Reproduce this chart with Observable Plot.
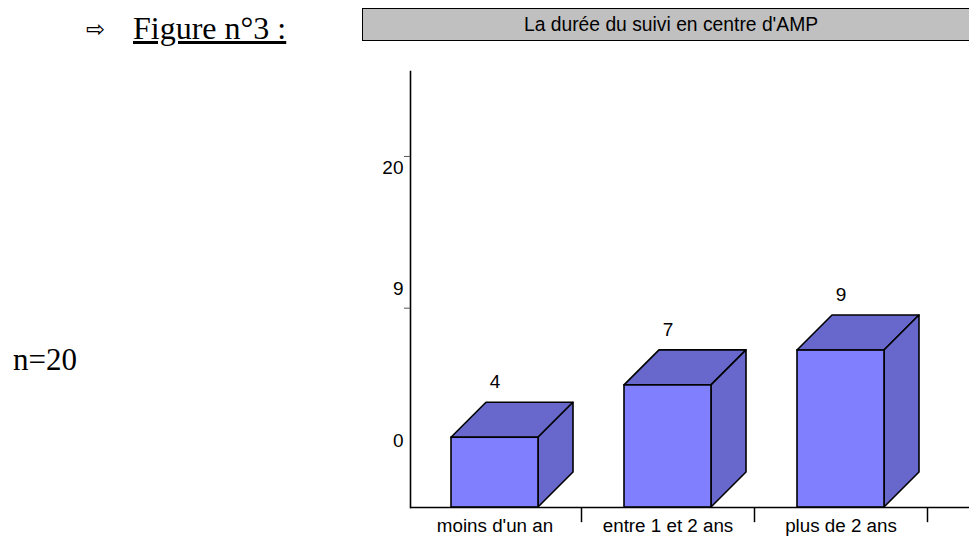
<!DOCTYPE html>
<html lang="fr">
<head>
<meta charset="utf-8">
<script src="https://cdn.jsdelivr.net/npm/d3@7"></script>
<script src="https://cdn.jsdelivr.net/npm/@observablehq/plot@0.6"></script>
<style>
html,body{margin:0;padding:0;background:#fff;width:969px;height:536px;overflow:hidden}
#chart{position:absolute;left:0;top:0}
.t{position:absolute;white-space:nowrap;color:#000}
#banner{left:362px;top:8px;width:607px;height:31px;box-sizing:content-box;background:#c0c0c0;border:1.5px solid #000;border-right:none;font:19.3px/31px "Liberation Sans",Arial,sans-serif;text-align:center;text-indent:9px}
#fig{left:133px;top:10px;font:32px "Liberation Serif","Times New Roman",serif;text-decoration:underline}
#arrow{left:86px;top:16px;font:23px "DejaVu Sans",sans-serif}
#n{left:13px;top:342px;font:31px "Liberation Serif","Times New Roman",serif}
</style>
</head>
<body>
<div class="t" id="arrow">⇨</div>
<div class="t" id="fig">Figure n°3 :</div>
<div class="t" id="banner">La durée du suivi en centre d'AMP</div>
<div class="t" id="n">n=20</div>
<div id="chart"></div>
<script>
const categories = ["moins d'un an", "entre 1 et 2 ans", "plus de 2 ans"];
const counts = [4, 7, 9];
const yTickPositions = [11.4, 20.1];
const yLabelPositions = [3.8, 12.55, 19.5];
const yLabels = ["0", "9", "20"];

const rows = categories.map((c, i) => ({c, v: counts[i]}));
const front = "#8080ff", shade = "#6868cc", depth = 35;

function faces(index, scales, values) {
  const g = d3.create("svg:g");
  const bw = scales.scales.x.bandwidth;
  for (const i of index) {
    const x0 = scales.x(rows[i].c), x1 = x0 + bw;
    const yt = scales.y(rows[i].v), yb = scales.y(0);
    const top = [[x0, yt], [x0 + depth, yt - depth], [x1 + depth, yt - depth], [x1, yt]];
    const side = [[x1, yt], [x1 + depth, yt - depth], [x1 + depth, yb - depth], [x1, yb]];
    for (const p of [top, side]) {
      g.append("path").attr("d", "M" + p.join("L") + "Z")
        .attr("fill", shade).attr("stroke", "#000")
        .attr("stroke-width", 1.6).attr("stroke-linejoin", "round");
    }
  }
  return g.node();
}

const plot = Plot.plot({
  width: 969, height: 536,
  marginLeft: 410, marginRight: 0, marginTop: 71, marginBottom: 29,
  style: {fontFamily: "'Liberation Sans', Arial, sans-serif", fontSize: "19px", color: "#000", background: "transparent"},
  x: {type: "band", domain: categories, range: [408, 927], paddingInner: 0.5, paddingOuter: 0.25, axis: null},
  y: {domain: [0, 25], axis: null},
  marks: [
    Plot.ruleY([0], {stroke: "#000", strokeWidth: 1.5}),
    Plot.frame({anchor: "left", stroke: "#000", strokeWidth: 1.6}),
    Plot.tickY(yTickPositions, {y: d => d, stroke: "#555", strokeWidth: 1,
      render(index, scales, values, dims) {
        const g = d3.create("svg:g");
        for (const i of index) g.append("line")
          .attr("x1", dims.marginLeft - 6).attr("x2", dims.marginLeft)
          .attr("y1", values.y[i]).attr("y2", values.y[i])
          .attr("stroke", "#555");
        return g.node();
      }}),
    Plot.ruleX(categories, {x: d => d, y1: 0, y2: -0.87, dx: 86.5, stroke: "#000", strokeWidth: 1.5}),
    Plot.barY(rows, {x: "c", y: "v", fill: shade, render: faces}),
    Plot.barY(rows, {x: "c", y: "v", fill: front, stroke: "#000", strokeWidth: 1.6}),
    Plot.text(rows, {x: "c", y: "v", text: d => String(d.v), dy: -55.5, fontSize: 19, fill: "#000"}),
    Plot.text(categories, {x: d => d, y: -1.07, text: d => d, fontSize: 18.8, fill: "#000"}),
    Plot.text(yLabels, {y: (d, i) => yLabelPositions[i], text: d => d, frameAnchor: "left", textAnchor: "end", dx: -7, fontSize: 19, fill: "#000"})
  ]
});
document.getElementById("chart").append(plot);
</script>
</body>
</html>
